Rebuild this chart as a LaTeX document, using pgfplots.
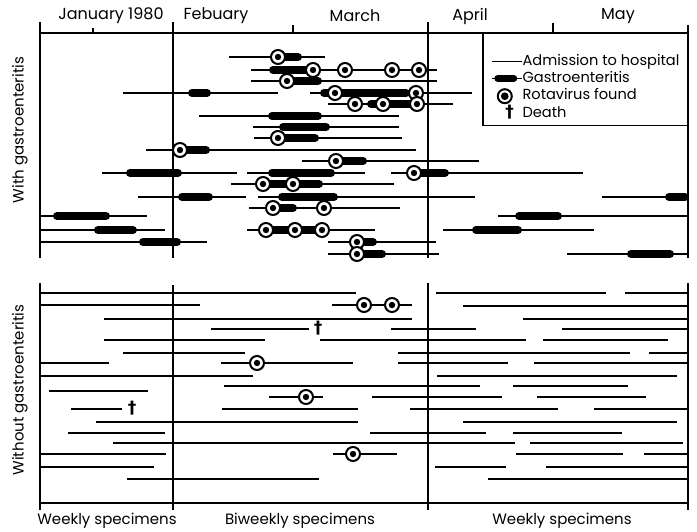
\documentclass[border=0pt]{standalone}
\usepackage{pgfplots}
\usepackage{pgfplotstable}
\pgfplotsset{compat=1.18}
\usepackage{fontspec}
\setmainfont{Poppins}
\newfontfamily\dejavu{DejaVu Sans}

\pgfdeclareplotmark{rota}{%
  \pgfsetlinewidth{2pt}%
  \pgfsetstrokecolor{black}%
  \pgfsetfillcolor{white}%
  \pgfpathcircle{\pgfpointorigin}{7pt}%
  \pgfusepath{fill,stroke}%
  \pgfsetfillcolor{black}%
  \pgfpathcircle{\pgfpointorigin}{3.2pt}%
  \pgfusepath{fill}%
}

% admission to hospital (x1 x2 y), positions on the chart
\pgfplotstableread{
x1 x2 y
229 325 57
251 437 70
251 437 81
123 278 93
310 472 93
328 453 104
199 399 116
253 399 127
254 402 138
146 416 150
302 479 161
102 237 173
247 365 173
391 583 173
231 394 184
138 246 197
258 475 197
602 688 197
249 400 208
40 147 216
498 688 216
40 165 230
247 375 230
443 594 230
40 207 242
328 436 242
328 439 254
567 688 254
40 356 293
436 606 293
625 688 293
40 200 305
332 412 305
463 688 306
104 412 319
523 688 319
211 309 329
391 476 329
562 688 329
104 265 340
320 526 340
543 668 340
123 245 353
398 630 353
649 688 353
40 109 363
221 353 363
398 508 363
534 688 363
40 253 376
437 677 376
224 480 386
513 628 386
49 148 391
269 323 397
372 502 397
537 646 397
71 122 409
222 358 409
410 558 409
594 688 409
96 358 422
463 677 422
68 165 433
370 486 433
513 622 433
113 515 443
530 683 443
40 166 454
333 397 454
516 623 454
644 688 454
40 154 467
435 506 467
546 688 467
127 319 479
488 688 479
}\admission

% gastroenteritis (x1 x2 y)
\pgfplotstableread{
x1 x2 y
280 302 57
269 313 70
287 322 81
188 211 93
320 410 93
367 418 104
268 322 116
279 330 127
278 319 138
180 210 150
336 367 161
126 182 173
268 335 173
414 449 173
263 323 184
178 213 197
278 338 197
665 689 197
273 297 208
53 110 216
515 562 216
94 137 230
266 322 230
472 522 230
139 181 242
357 377 242
357 386 254
627 674 254
}\gastro

% rotavirus found (x y)
\pgfplotstableread{
x y
278 57
313 70
345 70
392 70
419 70
287 81
335 93
416 93
355 104
383 104
417 104
278 138
180 150
336 161
414 173
263 184
293 184
273 208
324 208
266 230
295 230
322 230
357 242
357 254
364 305
392 305
257 363
306 397
353 454
}\rota

% death (x y)
\pgfplotstableread{
x y
318 328
132 408
}\death

% frame: vertical lines (x y1 y2)
\pgfplotstableread{
x y1 y2
40 22 258
173 22 258
428 22 258
688 25 258
40 283 510
173 285 510
428 283 510
688 283 510
}\vlines

% frame: horizontal lines (x1 x2 y)
\pgfplotstableread{
x1 x2 y
40 688 33
40 688 503
}\hlines

% small ticks on top (x y1 y2)
\pgfplotstableread{
x y1 y2
93 28 33
293 25 33
553 23 33
}\tticks

\begin{document}
\begin{tikzpicture}
\begin{axis}[
  x=1pt, y=1pt, y dir=reverse,
  xmin=0, xmax=697, ymin=0, ymax=531,
  hide axis, clip=false,
  legend cell align=left,
  legend style={at={(axis cs:688,33)}, anchor=north east, draw=black,
    line width=1.2pt, fill=white, inner xsep=8pt, inner ysep=4.5pt, row sep=3pt,
    font=\fontsize{14.6}{16}\selectfont,
    nodes={inner sep=0pt, text height=10.5pt, text depth=3.2pt},
    /tikz/every even column/.append style={column sep=3pt}},
]
\path (axis cs:0,0) rectangle (axis cs:697,531);

% frame
\addplot[forget plot, black, line width=2.6pt,
  quiver={u=0, v=\thisrow{y2}-\thisrow{y1}}] table[x=x, y=y1] {\vlines};
\addplot[forget plot, black, line width=1.7pt,
  quiver={u=\thisrow{x2}-\thisrow{x1}, v=0}] table[x=x1, y=y] {\hlines};
\addplot[forget plot, black, line width=1.2pt,
  quiver={u=0, v=\thisrow{y2}-\thisrow{y1}}] table[x=x, y=y1] {\tticks};

% data
\addplot[forget plot, black, line width=1.5pt,
  quiver={u=\thisrow{x2}-\thisrow{x1}, v=0}] table[x=x1, y=y] {\admission};
\addplot[forget plot, black, line width=8pt, line cap=round,
  quiver={u=\thisrow{x2}-\thisrow{x1}-8, v=0}] table[x expr=\thisrow{x1}+4, y=y] {\gastro};
\addplot[forget plot, only marks, mark=rota] table[x=x, y=y] {\rota};
\addplot[forget plot, only marks, mark=text, text mark={\dejavu\bfseries †},
  text mark as node=true,
  text mark style={font=\fontsize{17}{17}\selectfont, inner sep=0pt}] table[x=x, y=y] {\death};

% legend
\addlegendimage{empty legend}
\addlegendentry{}
\addlegendimage{legend image code/.code={\draw[black, line width=1.5pt] (0pt,0pt) -- (30pt,0pt);}}
\addlegendentry{Admission to hospital}
\addlegendimage{legend image code/.code={\draw[black, line width=1.5pt] (0pt,0pt) -- (30pt,0pt);
  \draw[black, line width=7pt, line cap=round] (6pt,0pt) -- (22pt,0pt);}}
\addlegendentry{Gastroenteritis}
\addlegendimage{legend image code/.code={\path[draw=none, fill=none] (0pt,0pt) -- (30pt,0pt);
  \draw[black, line width=2pt, fill=white] (13pt,0pt) circle[radius=7pt];
  \fill[black] (13pt,0pt) circle[radius=3.2pt];}}
\addlegendentry{Rotavirus found}
\addlegendimage{legend image code/.code={\path[draw=none, fill=none] (0pt,0pt) -- (30pt,0pt);
  \node[draw=none, inner sep=0pt, font=\fontsize{17}{17}\selectfont] at (13pt,0pt) {\dejavu\bfseries †};}}
\addlegendentry{Death}

% labels
\begin{scope}[every node/.style={font=\fontsize{15}{18}\selectfont, inner sep=0pt}]
\node[font=\fontsize{16}{18}\selectfont] at (axis cs:111,16) {January 1980};
\node[font=\fontsize{16}{18}\selectfont] at (axis cs:216,16) {Febuary};
\node[font=\fontsize{16}{18}\selectfont] at (axis cs:355,16) {March};
\node[font=\fontsize{16}{18}\selectfont] at (axis cs:470,16) {April};
\node[font=\fontsize{16}{18}\selectfont] at (axis cs:618,16) {May};
\node at (axis cs:107,521) {Weekly specimens};
\node at (axis cs:300,521) {Biweekly specimens};
\node at (axis cs:562,521) {Weekly specimens};
\node[rotate=90] at (axis cs:20,130) {With gastroenteritis};
\node[rotate=90] at (axis cs:20,390) {Without gastroenteritis};
\end{scope}
\end{axis}
\end{tikzpicture}
\end{document}
